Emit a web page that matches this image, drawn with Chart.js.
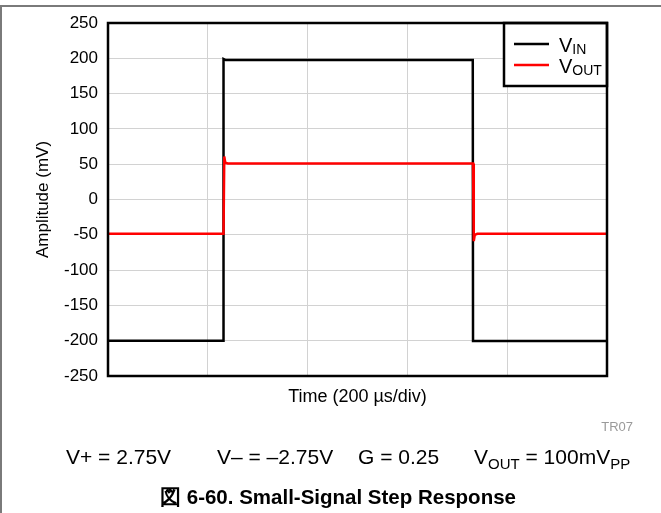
<!DOCTYPE html>
<html>
<head>
<meta charset="utf-8">
<script src="https://cdn.jsdelivr.net/npm/chart.js@4"></script>
<style>
  body { margin: 0; background: #fff; font-family: "Liberation Sans", Arial, sans-serif; }
  #wrap { position: relative; width: 661px; height: 513px; overflow: hidden; }
  #chart { position: absolute; left: 0; top: 0; }
  .rule-top { position: absolute; left: 0; top: 5px; width: 661px; height: 2px; background: #7a7a7a; }
  .rule-left { position: absolute; left: 0; top: 5px; width: 2px; height: 508px; background: #7a7a7a; }
  .txt { position: absolute; white-space: nowrap; color: #000; line-height: 22px; }
  .cond { top: 446px; font-size: 21px; }
  sub { font-size: 15px; vertical-align: -5px; line-height: 0; }
</style>
</head>
<body>
<div id="wrap">
  <canvas id="chart" width="661" height="513"></canvas>
  <div class="rule-top"></div>
  <div class="rule-left"></div>
  <div class="txt" style="right: 28px; top: 416px; font-size: 13px; color: #9a9a9a;">TR07</div>
  <div class="txt cond" style="left: 66px;">V+ = 2.75V</div>
  <div class="txt cond" style="left: 217px;">V– = –2.75V</div>
  <div class="txt cond" style="left: 358px;">G = 0.25</div>
  <div class="txt cond" style="left: 474px;">V<sub>OUT</sub> = 100mV<sub>PP</sub></div>
  <div class="txt" style="left: 0; width: 661px; text-align: center; top: 486px; font-size: 20.5px; font-weight: bold; padding-left: 15px; box-sizing: border-box;">図 6-60. Small-Signal Step Response</div>
</div>
<script>
// time axis in µs (200 µs/div), amplitude in mV
const vinTime = [0, 231, 231.5, 236, 731, 731.5, 1000];
const vinValues = [-200, -200, 199, 197.5, 197.5, -200.5, -200.5];
const voutTime = [0, 231.5, 233, 235, 240, 731.5, 733, 735, 740, 1000];
const voutValues = [-48.5, -48.5, 61, 52, 51, 51, -59, -50, -48.5, -48.5];
const seriesNames = [["V", "IN"], ["V", "OUT"]];
const seriesColors = ["#000000", "#ff0000"];
const xTicks = [0, 200, 400, 600, 800, 1000];
const yTicks = [-250, -200, -150, -100, -50, 0, 50, 100, 150, 200, 250];

const toPoints = (xs, ys) => xs.map((x, i) => ({ x: x, y: ys[i] }));

const framePlugin = {
  id: "frame",
  afterDraw(chart) {
    const { ctx, chartArea: a } = chart;
    ctx.save();
    // legend box in the top right corner
    const lw = 103, lh = 63;
    const lx = a.right - lw, ly = a.top;
    ctx.fillStyle = "#fff";
    ctx.fillRect(lx, ly, lw, lh);
    ctx.strokeStyle = "#000";
    ctx.lineWidth = 2.5;
    ctx.strokeRect(lx, ly, lw, lh);
    seriesNames.forEach((name, i) => {
      const y = ly + 21 + i * 21;
      ctx.strokeStyle = seriesColors[i];
      ctx.lineWidth = 2.5;
      ctx.beginPath();
      ctx.moveTo(lx + 10, y);
      ctx.lineTo(lx + 45, y);
      ctx.stroke();
      ctx.fillStyle = "#000";
      ctx.textBaseline = "alphabetic";
      ctx.font = '20px "Liberation Sans", Arial, sans-serif';
      ctx.fillText(name[0], lx + 55, y + 8);
      const w = ctx.measureText(name[0]).width;
      ctx.font = '14px "Liberation Sans", Arial, sans-serif';
      ctx.fillText(name[1], lx + 55 + w, y + 10);
    });
    // plot frame
    ctx.strokeStyle = "#000";
    ctx.lineWidth = 2.5;
    ctx.strokeRect(a.left, a.top, a.right - a.left, a.bottom - a.top);
    ctx.restore();
  },
};

new Chart(document.getElementById("chart"), {
  type: "scatter",
  data: {
    datasets: [
      {
        label: "VOUT",
        data: toPoints(voutTime, voutValues),
        borderColor: seriesColors[1],
        borderWidth: 2.5,
        showLine: true,
        pointRadius: 0,
        tension: 0,
        order: 1,
      },
      {
        label: "VIN",
        data: toPoints(vinTime, vinValues),
        borderColor: seriesColors[0],
        borderWidth: 2.5,
        showLine: true,
        pointRadius: 0,
        tension: 0,
        order: 2,
      },
    ],
  },
  options: {
    responsive: false,
    animation: false,
    layout: { padding: { left: 29, top: 23, right: 54, bottom: 101 } },
    plugins: { legend: { display: false }, tooltip: { enabled: false } },
    scales: {
      x: {
        type: "linear",
        min: xTicks[0],
        max: xTicks[xTicks.length - 1],
        afterBuildTicks: (s) => { s.ticks = xTicks.map((v) => ({ value: v })); },
        afterFit: (s) => { s.height = 36; },
        ticks: { display: false },
        grid: { color: "#d2d2d2", lineWidth: 1, drawTicks: false },
        border: { display: false },
        title: {
          display: true,
          text: "Time (200 µs/div)",
          color: "#000",
          font: { family: '"Liberation Sans", Arial, sans-serif', size: 18 },
          padding: { top: 4, bottom: 4 },
        },
      },
      y: {
        type: "linear",
        min: yTicks[0],
        max: yTicks[yTicks.length - 1],
        afterBuildTicks: (s) => { s.ticks = yTicks.map((v) => ({ value: v })); },
        afterFit: (s) => { s.width = 79; },
        ticks: {
          color: "#000",
          padding: 10,
          font: { family: '"Liberation Sans", Arial, sans-serif', size: 17 },
        },
        grid: { color: "#d2d2d2", lineWidth: 1, drawTicks: false },
        border: { display: false },
        title: {
          display: true,
          text: "Amplitude (mV)",
          color: "#000",
          font: { family: '"Liberation Sans", Arial, sans-serif', size: 17 },
          padding: { top: 4, bottom: 4 },
        },
      },
    },
  },
  plugins: [framePlugin],
});
</script>
</body>
</html>
